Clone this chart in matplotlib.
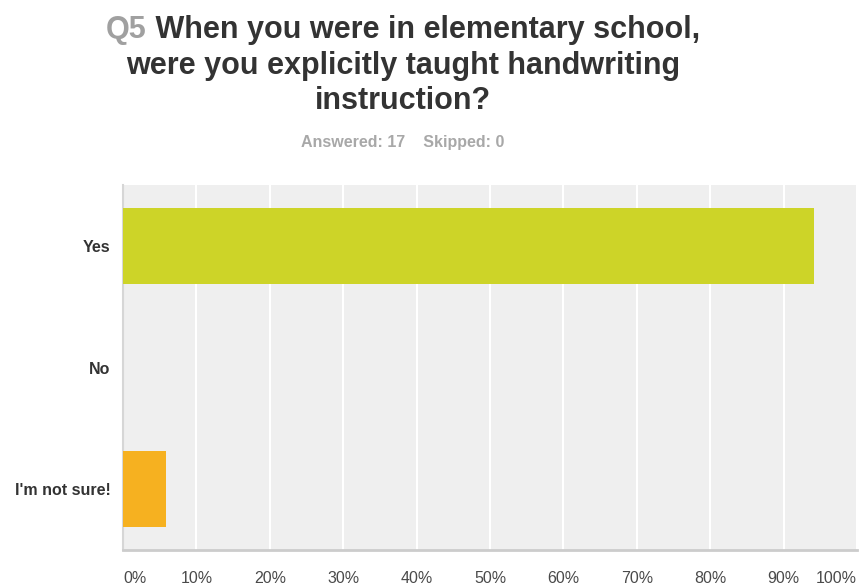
import matplotlib.pyplot as plt
import numpy as np

plt.rcParams['font.family'] = ['Liberation Sans', 'DejaVu Sans']

# survey data
categories = ["Yes", "No", "I'm not sure!"]
percents = [94.12, 0.0, 5.88]
bar_colors = ['#cdd428', '#c9c9c9', '#f6b120']
tick_vals = [0, 10, 20, 30, 40, 50, 60, 70, 80, 90, 100]
tick_labels = [f'{v}%' for v in tick_vals]
answered = 17
skipped = 0

W, H = 859, 588
fig = plt.figure(figsize=(W / 100, H / 100), dpi=100)
ax = fig.add_axes([123 / W, 38 / H, 734 / W, 365 / H])
ax.set_facecolor('#efefef')

y = np.arange(len(categories))
ax.barh(y, percents, height=0.63, color=bar_colors, zorder=3)
ax.set_ylim(len(categories) - 0.5, -0.5)
ax.set_xlim(0, 100)

ax.set_xticks(tick_vals)
ax.set_xticklabels(tick_labels, fontsize=11.5, color='#4a4a4a')
ax.tick_params(axis='x', length=0, pad=15)
ax.set_yticks(y)
ax.set_yticklabels(categories, fontsize=11.5, fontweight='bold', color='#333333')
ax.tick_params(axis='y', length=0, pad=9)
lbls = ax.get_xticklabels()
lbls[0].set_ha('left')
lbls[-1].set_ha('right')

ax.grid(axis='x', color='white', linewidth=1.5, zorder=1)
ax.set_axisbelow(True)
for s in ['top', 'right']:
    ax.spines[s].set_visible(False)
ax.spines['left'].set_color('#d6d6d6')
ax.spines['left'].set_linewidth(1.5)
ax.spines['bottom'].set_color('#cccccc')
ax.spines['bottom'].set_linewidth(2)

# title
cx = 403 / W
t_q = fig.text(0, 1 - 30 / H, 'Q5', fontsize=22, fontweight='bold', color='#a0a0a0', va='center', ha='left')
t_1 = fig.text(0, 1 - 30 / H, ' When you were in elementary school,', fontsize=22, fontweight='bold',
               color='#333333', va='center', ha='left')
fig.canvas.draw()
r = fig.canvas.get_renderer()
wq = t_q.get_window_extent(r).width / W
w1 = t_1.get_window_extent(r).width / W
x0 = cx - (wq + w1) / 2
t_q.set_x(x0)
t_1.set_x(x0 + wq)
fig.text(cx, 1 - 66 / H, 'were you explicitly taught handwriting', fontsize=22, fontweight='bold',
         color='#333333', va='center', ha='center')
fig.text(cx, 1 - 101 / H, 'instruction?', fontsize=22, fontweight='bold',
         color='#333333', va='center', ha='center')
fig.text(cx, 1 - 143 / H, f'Answered: {answered}    Skipped: {skipped}', fontsize=11.5, fontweight='bold',
         color='#a8a8a8', va='center', ha='center')

fig.savefig('out.png', dpi=100)
